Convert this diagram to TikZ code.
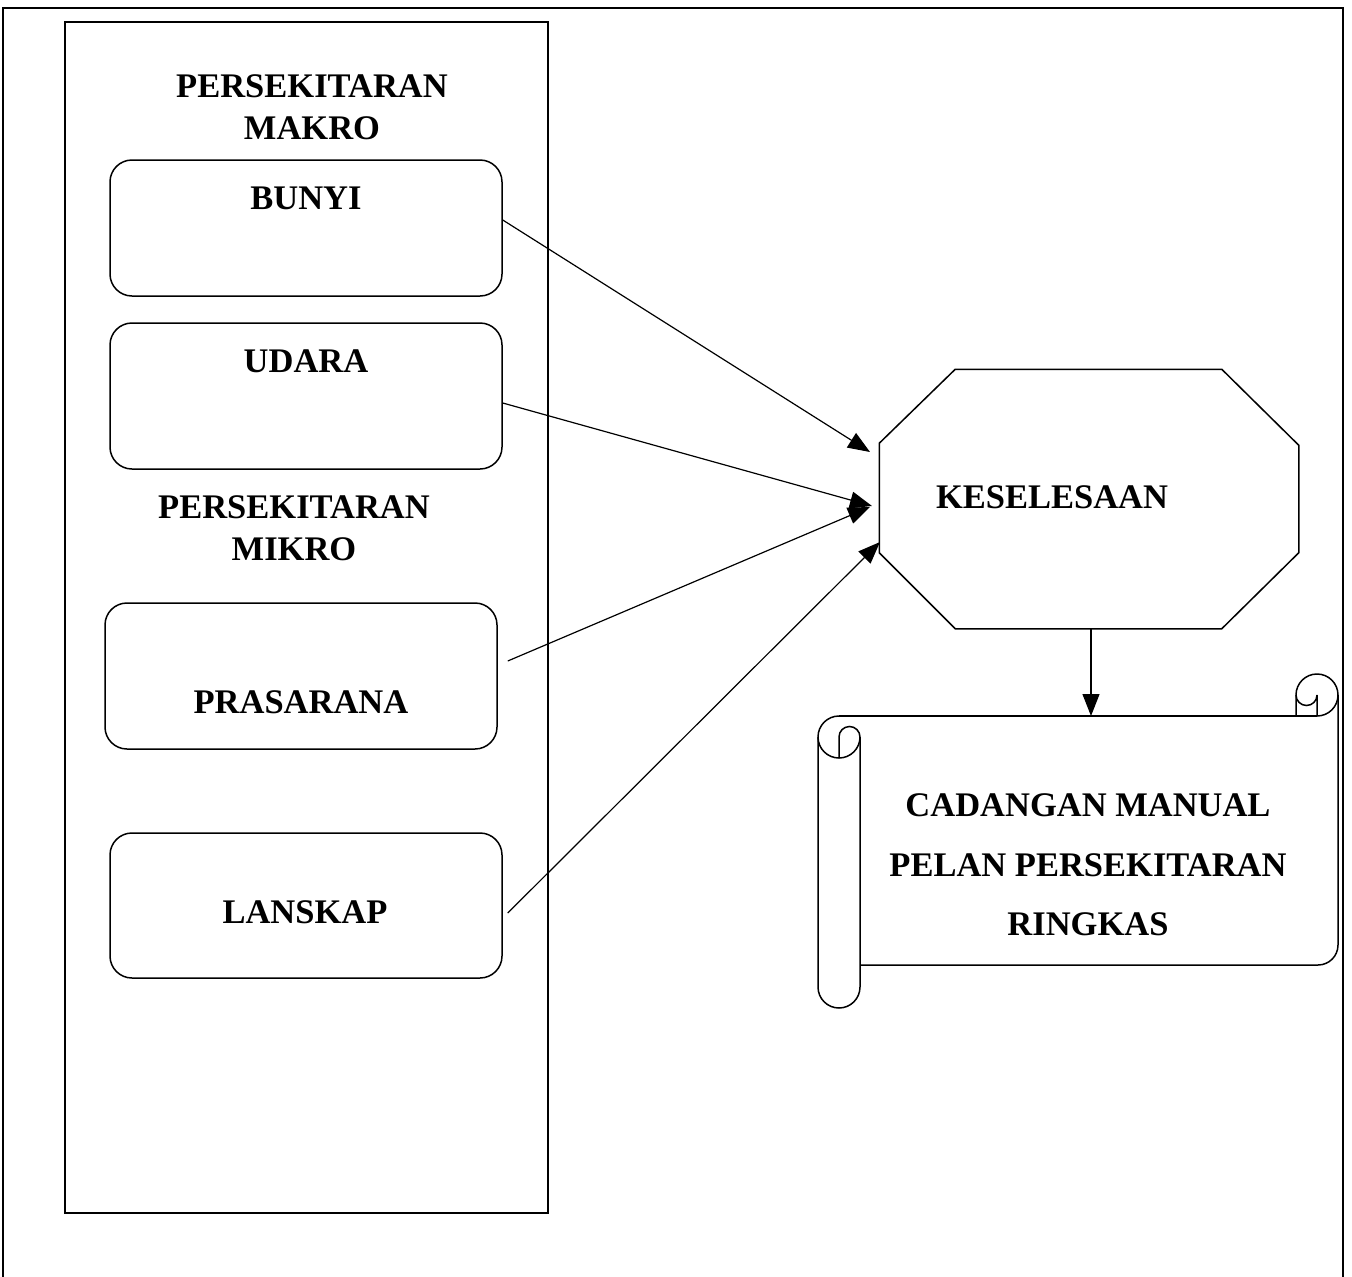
\documentclass[tikz,border=0pt]{standalone}
\usepackage{fontspec}
\setmainfont{Liberation Serif}
\usetikzlibrary{arrows.meta,calc}
\begin{document}
\begin{tikzpicture}[x=1pt,y=-1pt,line width=1.5pt,
  lbl/.style={font=\fontsize{34.5}{42}\selectfont\bfseries,inner sep=0,align=center},
  box/.style={draw,rounded corners=22pt,minimum width=392pt,inner sep=0},
  arr/.style={-{Triangle[length=22pt,width=17pt]},line width=1.2pt}]
\useasboundingbox (0,0) rectangle (1352,1277);
% outer frame
\draw (3,1277) -- (3,8) -- (1343,8) -- (1343,1277);
% environment column
\node[draw,minimum width=483pt,minimum height=1191pt,inner sep=0] (env) at (306.5,617.5) {};
\node[lbl] (makro) at (312,107) {PERSEKITARAN\\MAKRO};
\node[box,minimum height=136pt] (bunyi) at (306,228) {};
\node[lbl] (bunyit) at (306,198) {BUNYI};
\node[box,minimum height=146pt] (udara) at (306,396) {};
\node[lbl] (udarat) at (306,361) {UDARA};
\node[lbl] (mikro) at (294,528) {PERSEKITARAN\\MIKRO};
\node[box,minimum height=146pt] (prasarana) at (301,676) {};
\node[lbl] (prasaranat) at (301,702) {PRASARANA};
\node[box,minimum height=145pt] (lanskap) at (306,905.5) {};
\node[lbl] (lanskapt) at (305,912) {LANSKAP};
% octagon
\node[minimum width=418pt,minimum height=258pt,inner sep=0] (kes) at (1089,499) {};
\draw ($(kes.north west)+(76,0)$) -- ($(kes.north east)+(-77,0)$) -- ($(kes.north east)+(0,76)$)
  -- ($(kes.south east)+(0,-76)$) -- ($(kes.south east)+(-77,0)$) -- ($(kes.south west)+(76,0)$)
  -- ($(kes.south west)+(0,-76)$) -- ($(kes.north west)+(0,74)$) -- cycle;
\node[lbl] (kest) at (1052,497) {KESELESAAN};
% arrow targets
\coordinate (t1) at (870,452);
\coordinate (t2) at (872,506);
\coordinate (t3) at (870,507);
\coordinate (t4) at (880,542);
\coordinate (t5) at (1091,716);
\draw[arr] ([yshift=8pt]bunyi.east) -- (t1);
\draw[arr] ([yshift=-7pt]udara.east) -- (t2);
\draw[arr] ([xshift=10pt,yshift=15pt]prasarana.east) -- (t3);
\draw[arr] ([xshift=5pt,yshift=-7.5pt]lanskap.east) -- (t4);
\draw[arr] (kes.south -| t5) -- (t5);
% scroll
\draw (839,716) arc[start angle=270,end angle=180,radius=21] -- (818,987)
  arc[start angle=180,end angle=0,radius=21] -- (860,737);
\draw (818,737) arc[start angle=180,end angle=0,radius=21];
\draw (839,758) -- (839,737) arc[start angle=180,end angle=360,radius=10.5];
\draw (839,716) -- (1317,716);
\draw (1296,716) -- (1296,695) arc[start angle=180,end angle=450,radius=21];
\draw (1296,695) arc[start angle=180,end angle=0,radius=10.5] -- (1317,716);
\draw (1338,695) -- (1338,945) arc[start angle=0,end angle=90,radius=20] -- (860,965);
\node[lbl,font=\fontsize{34.5}{59.5}\selectfont\bfseries] (scrollt) at (1088,865) {CADANGAN MANUAL\\PELAN PERSEKITARAN\\RINGKAS};
\end{tikzpicture}
\end{document}
